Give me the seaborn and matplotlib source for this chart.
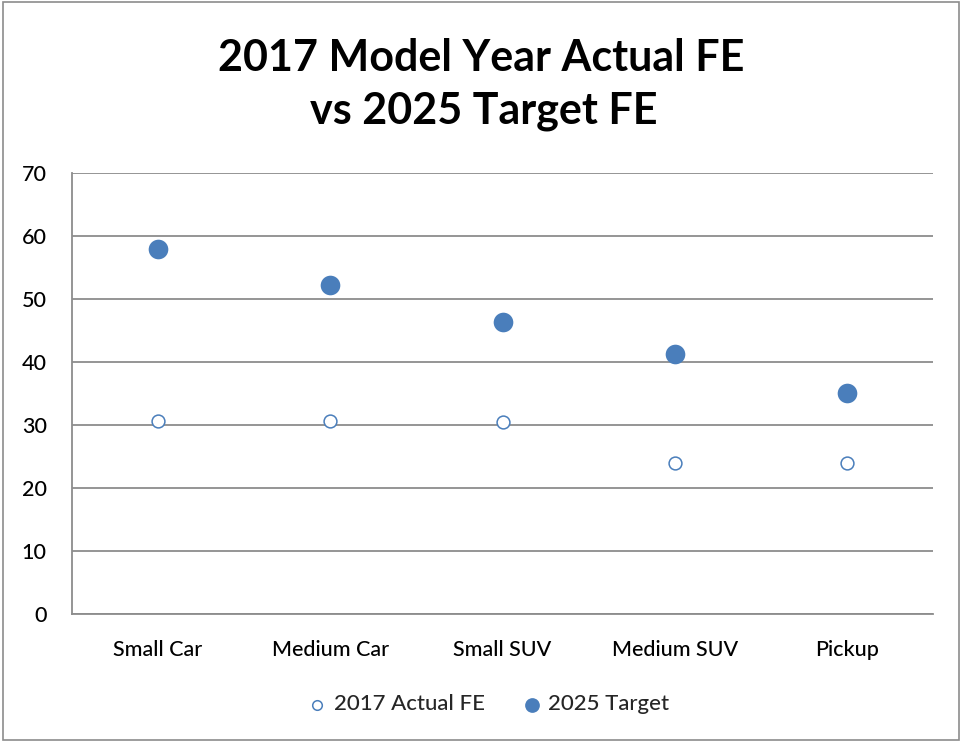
import matplotlib
matplotlib.use("Agg")
import matplotlib.pyplot as plt
from matplotlib.patches import Rectangle
import seaborn as sns
import pandas as pd

categories = ["Small Car", "Medium Car", "Small SUV", "Medium SUV", "Pickup"]
actual_2017 = [30.7, 30.7, 30.4, 23.9, 23.9]
target_2025 = [58.0, 52.2, 46.3, 41.2, 35.1]
y_ticks = [0, 10, 20, 30, 40, 50, 60, 70]

df = pd.DataFrame({
    "category": categories,
    "pos": range(len(categories)),
    "actual": actual_2017,
    "target": target_2025,
})

sns.set_theme(style="white")
plt.rcParams["font.family"] = ["Lato", "DejaVu Sans"]

blue = "#4A7EBB"
grid_gray = "#8C8C8C"
label_font = dict(fontsize=15.5, fontweight="medium", color="black")

fig = plt.figure(figsize=(9.61, 7.42), dpi=100)
ax = fig.add_axes([72 / 961, 1 - 614 / 742, (933 - 72) / 961, (614 - 173) / 742])

sns.scatterplot(data=df, x="pos", y="actual", ax=ax, s=85, marker="o",
                facecolor="white", edgecolor=blue, linewidth=1.1,
                label="2017 Actual FE", zorder=3)
sns.scatterplot(data=df, x="pos", y="target", ax=ax, s=200, marker="o",
                color=blue, edgecolor=blue, linewidth=0,
                label="2025 Target", zorder=3)

ax.set_xlim(-0.5, len(categories) - 0.5)
ax.set_ylim(0, 70)
ax.set_yticks(y_ticks)
ax.set_yticklabels([str(t) for t in y_ticks], **label_font)
ax.set_xticks(range(len(categories)))
ax.set_xticklabels(categories, **label_font)
ax.set_xticks([i - 0.5 for i in range(len(categories) + 1)], minor=True)
ax.tick_params(axis="x", which="major", length=0, pad=19)
ax.tick_params(axis="x", which="minor", length=7, width=1.2, color=grid_gray, direction="out")
ax.tick_params(axis="y", length=7.2, width=1.2, color=grid_gray, direction="out", pad=11)
ax.set_xlabel("")
ax.set_ylabel("")

ax.yaxis.grid(True, color=grid_gray, linewidth=1.3)
ax.set_axisbelow(True)
for side in ["top", "right"]:
    ax.spines[side].set_visible(False)
for side in ["left", "bottom"]:
    ax.spines[side].set_color(grid_gray)
    ax.spines[side].set_linewidth(1.3)

title_font = dict(ha="center", va="center", fontsize=31, fontweight="bold", color="black")
fig.text(481 / 961, 1 - 58 / 742, "2017 Model Year Actual FE", **title_font)
fig.text(484 / 961, 1 - 111 / 742, "vs 2025 Target FE", **title_font)

leg = ax.legend(loc="center", bbox_to_anchor=((489 - 72) / 861, -0.205), ncol=2,
                frameon=False,
                prop=dict(family=["Lato", "DejaVu Sans"], size=16, weight="medium"),
                handlelength=0.8, handletextpad=0.35, columnspacing=1.7,
                markerscale=0.75)

fig.patches.append(Rectangle((3 / 961, 2 / 742), 1 - 5 / 961, 1 - 4 / 742,
                             transform=fig.transFigure, fill=False,
                             edgecolor="#8C8C8C", linewidth=1.2))

fig.savefig("out.png", dpi=100, facecolor="white")
